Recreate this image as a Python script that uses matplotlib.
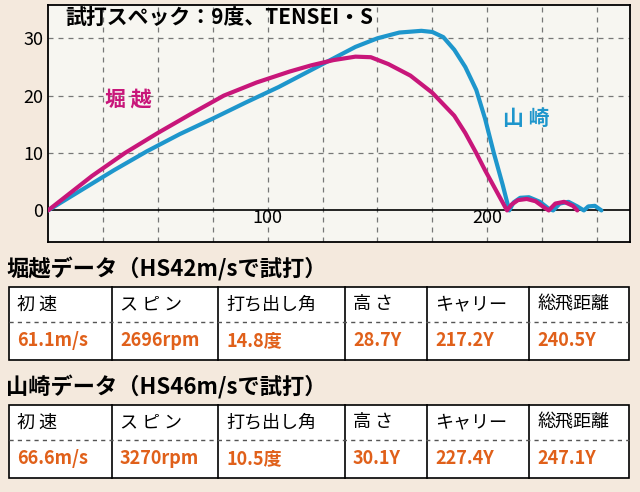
import matplotlib.pyplot as plt
from matplotlib.lines import Line2D
from matplotlib.patches import Rectangle

plt.rcParams["font.family"] = ["Noto Sans CJK JP"]

# 弾道データ (x: ヤード, y: 高さ)
hori_x = [0, 10, 20, 35, 50, 65, 80, 95, 110, 120, 130, 140, 147, 155, 165, 175, 185, 190, 195, 199, 203, 206, 209,
          211, 214, 218, 222, 226, 228, 231, 235, 239, 241]
hori_y = [0, 3, 6, 10, 13.5, 16.8, 20, 22.3, 24.2, 25.3, 26.2, 26.8, 26.7, 25.5, 23.5, 20.5, 16.5, 13.5, 10, 7, 4.2, 2.1, 0,
          1.0, 1.8, 2.0, 1.6, 0.5, 0, 1.2, 1.5, 0.8, 0]
yama_x = [0, 15, 30, 45, 60, 75, 90, 105, 120, 130, 140, 150, 160, 170, 175, 180, 185, 190, 195, 199, 203, 207, 210,
          212, 215, 219, 224, 228, 230, 233, 237, 241, 244, 246, 249, 252]
yama_y = [0, 3.5, 7, 10.3, 13.3, 16, 18.8, 21.5, 24.5, 26.5, 28.5, 30, 31, 31.3, 31.1, 30.2, 28, 25, 21, 16, 10, 4.5, 0,
          1.4, 2.2, 2.3, 1.5, 0.3, 0, 1.2, 1.5, 0.7, 0, 0.7, 0.8, 0]

headers = ["初 速", "ス ピ ン", "打ち出し角", "高 さ", "キャリー", "総飛距離"]
hori_vals = ["61.1m/s", "2696rpm", "14.8度", "28.7Y", "217.2Y", "240.5Y"]
yama_vals = ["66.6m/s", "3270rpm", "10.5度", "30.1Y", "227.4Y", "247.1Y"]

PINK = "#c8167a"
BLUE = "#1e96cc"
ORANGE = "#e0601a"
W, H = 640, 492

fig = plt.figure(figsize=(6.4, 4.92), dpi=100)
fig.patch.set_facecolor("#f4e9dd")

def fx(px):
    return px / W

def fy(py):
    return 1 - py / H

ax = fig.add_axes([fx(48), fy(242), fx(630) - fx(48), fy(5) - fy(242)])
ax.set_facecolor("#f7f6f1")
ax.set_xlim(0, 265)
ax.set_ylim(-5.5, 35.8)
ax.set_xticks([100, 200])
ax.set_yticks([0, 10, 20, 30])
ax.tick_params(length=0, labelsize=13)
ax.tick_params(axis="x", pad=-24)
for x in range(25, 265, 25):
    ax.axvline(x, color="#777777", ls=(0, (4, 4)), lw=0.9, zorder=1)
for y in [10, 20, 30]:
    ax.axhline(y, color="#777777", ls=(0, (4, 4)), lw=0.9, zorder=1)
ax.axhline(0, color="black", lw=1.2, zorder=2)
for s in ax.spines.values():
    s.set_linewidth(1.3)
ax.plot(yama_x, yama_y, color=BLUE, lw=3, zorder=3, solid_capstyle="round", solid_joinstyle="round")
ax.plot(hori_x, hori_y, color=PINK, lw=3, zorder=4, solid_capstyle="round", solid_joinstyle="round")
ax.text(8, 33.5, "試打スペック：9度、TENSEI・S", fontsize=15, fontweight="bold", va="center", zorder=5)
ax.text(26, 19.5, "堀 越", color=PINK, fontsize=15, fontweight="bold", va="center")
ax.text(207, 16, "山 崎", color=BLUE, fontsize=15, fontweight="bold", va="center")

cols = [9, 112, 218, 345, 427, 529, 629]

def table(title, vals, top):
    fig.text(fx(6), fy(top - 18), title, fontsize=16, fontweight="bold", va="center")
    bottom = top + 73
    mid = top + 35
    fig.patches.append(Rectangle((fx(cols[0]), fy(bottom)), fx(cols[-1]) - fx(cols[0]), fy(top) - fy(bottom),
                                 transform=fig.transFigure, facecolor="white", edgecolor="black", lw=1.2))
    for c in cols[1:-1]:
        fig.lines.append(Line2D([fx(c), fx(c)], [fy(top), fy(bottom)], transform=fig.transFigure, color="black", lw=1.2))
    fig.lines.append(Line2D([fx(cols[0]), fx(cols[-1])], [fy(mid), fy(mid)], transform=fig.transFigure,
                            color="#555555", lw=1, ls=(0, (3, 3))))
    for i in range(6):
        fig.text(fx(cols[i] + 8), fy((top + mid) / 2), headers[i], fontsize=13, va="center")
        fig.text(fx(cols[i] + 8), fy((mid + bottom) / 2), vals[i], fontsize=13, va="center",
                 color=ORANGE, fontweight="bold")

table("堀越データ（HS42m/sで試打）", hori_vals, 287)
table("山崎データ（HS46m/sで試打）", yama_vals, 405)

fig.savefig("out.png", dpi=100, facecolor=fig.get_facecolor())
